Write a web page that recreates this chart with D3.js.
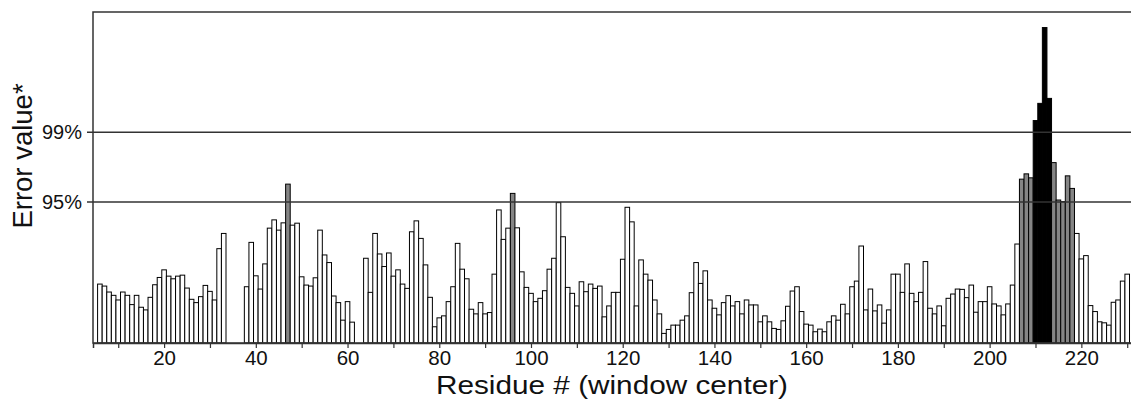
<!DOCTYPE html>
<html>
<head>
<meta charset="utf-8">
<script src="https://cdn.jsdelivr.net/npm/d3@7"></script>
<style>
  body { margin: 0; background: #fff; }
  text { font-family: "Liberation Sans", Arial, sans-serif; fill: #111; }
</style>
</head>
<body>
<div id="chart"></div>
<script>
// Residues 6..230 (window centers), null = no value
const firstResidue = 6;
const errorValues = [
  17.8, 17.2, 15.4, 14.4, 13.0, 15.4, 14.4, 11.6, 14.4, 10.8,   // 6-15
  10.0, 13.8, 17.6, 19.8, 22.1, 20.2, 19.4, 20.2, 20.5, 16.6,   // 16-25
  13.2, 12.2, 14.0, 17.4, 15.6, 13.0, 28.5, 33.1, null, null,   // 26-35
  null, null, 17.0, 30.4, 20.3, 16.3, 23.9, 34.7, 37.2, 34.1,   // 36-45
  36.3, 48.0, 35.6, 36.2, 20.0, 17.5, 17.2, 19.7, 34.1, 26.6,   // 46-55
  24.3, 14.2, 12.2, 6.9, 12.5, 6.3, null, null, 25.6, 15.3,     // 56-65
  33.1, 26.9, 23.1, 27.2, 20.2, 22.1, 17.8, 16.5, 33.6, 36.9,   // 66-75
  31.6, 23.6, 13.8, 4.9, 7.6, 8.2, 12.5, 17.0, 30.1, 22.3,      // 76-85
  19.4, 10.2, 8.8, 12.2, 8.8, 9.2, 20.8, 40.2, 31.3, 34.7,      // 86-95
  45.2, 34.8, 21.5, 16.8, 15.0, 12.5, 13.5, 15.8, 22.3, 25.6,   // 96-105
  42.4, 32.1, 16.8, 15.0, 11.2, 18.5, 15.5, 17.8, 16.5, 17.2,   // 106-115
  7.9, 11.2, 15.3, 15.3, 25.3, 41.0, 36.6, 11.2, 25.1, 20.8,    // 116-125
  19.0, 13.0, 8.8, 2.9, 4.1, 5.4, 5.4, 6.9, 8.2, 15.2,          // 126-135
  24.3, 18.0, 21.8, 13.0, 10.5, 8.5, 12.2, 14.3, 11.2, 12.5,    // 136-145
  8.8, 13.0, 11.5, 11.5, 6.4, 8.2, 6.4, 4.4, 4.1, 6.7,          // 146-155
  11.1, 15.7, 17.0, 9.5, 5.7, 5.4, 3.4, 4.2, 3.4, 6.4,          // 156-165
  8.2, 6.9, 11.7, 8.8, 17.0, 18.7, 29.3, 10.0, 16.3, 9.7,       // 166-175
  11.5, 6.0, 10.0, 20.8, 20.8, 15.3, 23.9, 15.0, 12.5, 15.3,    // 176-185
  24.6, 10.5, 8.8, 11.2, 5.2, 13.5, 14.8, 16.3, 16.2, 13.7,     // 186-195
  17.5, 9.3, 12.5, 12.5, 17.0, 11.8, 11.2, 8.5, 11.8, 17.5,     // 196-205
  29.9, 49.5, 51.1, 49.9, 67.2, 72.4, 95.3, 73.9, 54.5, 43.2,   // 206-215
  42.7, 50.5, 46.7, 33.1, 25.4, 26.4, 11.3, 9.5, 6.4, 6.1,      // 216-225
  5.4, 12.3, 13.0, 18.7, 20.8                                   // 226-230
];
const residues = errorValues.map((v, i) => firstResidue + i);

const thresholdLabels = ["95%", "99%"];
const thresholdValues = [42.6, 63.7];

const xTickValues = d3.range(10, 231, 10);
const xLabelEvery = 20;

const WIDTH = 1131;
const HEIGHT = 400;
const LEFT = 93, TOP = 12, BOTTOM = 343, RIGHT = 1131.8;

const svg = d3.select("#chart").append("svg")
    .attr("width", WIDTH)
    .attr("height", HEIGHT);

const x = d3.scaleLinear().domain([4.5, 231]).range([LEFT, RIGHT]);
const y = d3.scaleLinear().domain([0, 100]).range([BOTTOM, TOP]);

const data = residues.map((r, i) => ({ r: r, v: errorValues[i] }))
    .filter(d => d.v !== null);

function barFill(v) {
    if (v > thresholdValues[1]) return "#000";
    if (v > thresholdValues[0]) return "#858585";
    return "#fff";
}

// Bars
svg.append("g")
    .selectAll("rect")
    .data(data)
    .enter().append("rect")
    .attr("x", d => x(d.r - 0.5))
    .attr("y", d => y(d.v))
    .attr("width", d => x(d.r + 0.5) - x(d.r - 0.5))
    .attr("height", d => y(0) - y(d.v))
    .attr("fill", d => barFill(d.v))
    .attr("stroke", "#000")
    .attr("stroke-width", 1);

// Threshold lines + labels
svg.append("g")
    .selectAll("line")
    .data(thresholdValues)
    .enter().append("line")
    .attr("x1", LEFT - 6)
    .attr("x2", RIGHT)
    .attr("y1", d => y(d))
    .attr("y2", d => y(d))
    .attr("stroke", "#333")
    .attr("stroke-width", 1.5);

svg.append("g")
    .selectAll("text")
    .data(thresholdValues)
    .enter().append("text")
    .attr("x", LEFT - 11)
    .attr("y", d => y(d) + 7)
    .attr("text-anchor", "end")
    .style("font-size", "20px")
    .text((d, i) => thresholdLabels[i]);

// Frame
svg.append("rect")
    .attr("x", LEFT)
    .attr("y", TOP)
    .attr("width", RIGHT - LEFT)
    .attr("height", BOTTOM - TOP)
    .attr("fill", "none")
    .attr("stroke", "#333")
    .attr("stroke-width", 1.5);

// X axis: ticks every 10, labels every 20
const xAxis = svg.append("g")
    .attr("transform", `translate(0,${BOTTOM})`)
    .call(d3.axisBottom(x)
        .tickValues(xTickValues)
        .tickSize(5)
        .tickFormat(d => d % xLabelEvery === 0 ? d : ""));
xAxis.select(".domain").attr("stroke", "#333").attr("stroke-width", 1.5);
xAxis.selectAll(".tick line").attr("stroke", "#333").attr("stroke-width", 1.2);
xAxis.selectAll(".tick text")
    .filter(d => d % xLabelEvery !== 0)
    .remove();
xAxis.selectAll(".tick text")
    .attr("y", 22)
    .attr("dy", null)
    .style("font-size", "20.5px")
    .style("font-family", "'Liberation Sans', Arial, sans-serif")
    .attr("fill", "#111");

// Axis titles
svg.append("text")
    .attr("x", (LEFT + WIDTH) / 2)
    .attr("y", 394)
    .attr("text-anchor", "middle")
    .attr("textLength", 352)
    .attr("lengthAdjust", "spacingAndGlyphs")
    .style("font-size", "26px")
    .text("Residue # (window center)");

svg.append("text")
    .attr("transform", "translate(32,156)rotate(-90)")
    .attr("text-anchor", "middle")
    .style("font-size", "27.5px")
    .text("Error value*");
</script>
</body>
</html>
